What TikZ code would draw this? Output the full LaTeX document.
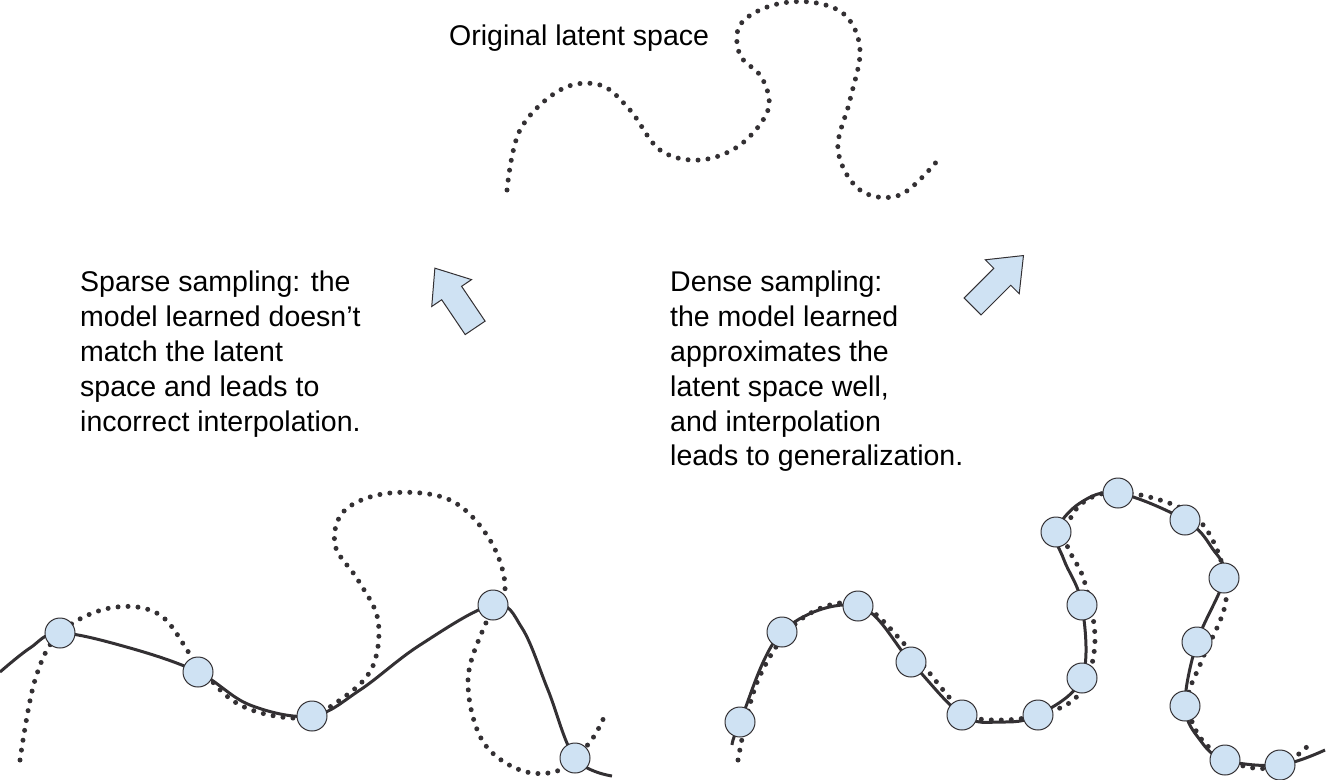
\documentclass[tikz,border=0pt]{standalone}
\usepackage{fontspec}
\setmainfont{Liberation Sans}
\definecolor{pale}{HTML}{CFE2F3}
\definecolor{ink}{HTML}{333033}
\tikzset{
  latent/.style = {ink, line width=5pt, line cap=round, dash pattern=on 0pt off 10pt},
  model/.style  = {ink, line width=3pt},
  sample/.style = {circle, draw=ink, fill=pale, line width=1pt, minimum size=30pt, inner sep=0pt},
  caption/.style = {anchor=north west, align=left, inner sep=0pt, font=\fontsize{28.5}{34.8}\selectfont},
  blockarrow/.style = {draw=ink, fill=pale, line width=1pt, line join=miter}
}
\newcommand{\blockshape}{(-36,-12) -- (6,-12) -- (6,-24) -- (36,0) -- (6,24) -- (6,12) -- (-36,12) -- cycle}
\begin{document}
\begin{tikzpicture}[x=1pt,y=-1pt]
\useasboundingbox (0,0) rectangle (1329,779);

% the original latent space
\node[caption, anchor=west] (title) at (449,38) {Original latent space};
\draw[latent] plot[smooth, tension=0.6] coordinates {(507,190) (520,130) (560,90) (600,85) (630,110)
  (660,150) (700,160) (740,145) (768,110) (762,78) (740,55) (740,25) (770,6) (810,2) (845,15)
  (860,50) (850,100) (838,150) (860,190) (900,195) (938,160)};

% captions and arrows
\node[caption] (sparse) at (80,271) {Sparse sampling: the\\model learned doesn’t\\match the latent\\space and leads to\\incorrect interpolation.};
\node[caption] (dense) at (670,271) {Dense sampling:\\the model learned\\approximates the\\latent space well,\\and interpolation\\leads to generalization.};
\draw[blockarrow, shift={(455,298)}, rotate=124] \blockshape;
\draw[blockarrow, shift={(998,281)}, rotate=45] \blockshape;

% sparse sampling
\draw[latent] plot[smooth, tension=0.6] coordinates {(20,760) (35,680) (60,633) (110,608) (160,615)
  (198,665) (240,705) (300,718) (340,700) (372,668) (378,620) (358,580) (335,545) (345,510)
  (390,493) (450,500) (490,540) (505,590) (485,625) (468,680) (482,740) (520,770) (560,770)
  (590,742) (605,715)};
\draw[model] plot[smooth, tension=0.6] coordinates {(0,672) (30,648) (60,633) (130,648) (198,672)
  (250,705) (312,716) (360,690) (420,645) (493,605) (522,628) (548,690) (575,758) (612,776)};
\foreach \p [count=\i] in {(60,633),(198,672),(312,716),(493,605),(575,758)}
  \node[sample] (s\i) at \p {};

% dense sampling
\draw[latent] plot[smooth, tension=0.6] coordinates {(738,760) (758,680) (800,620) (858,604)
  (910,650) (962,710) (1000,720) (1050,712) (1082,690) (1095,640) (1084,580) (1066,540)
  (1080,505) (1120,492) (1185,510) (1215,545) (1226,600) (1202,660) (1188,700) (1202,740)
  (1240,765) (1280,766) (1312,742)};
\draw[model] plot[smooth, tension=0.6] coordinates {(732,745) (740,722) (782,632) (858,606)
  (911,662) (962,715) (1000,722) (1038,715) (1082,678) (1082,605) (1064,560) (1056,532)
  (1080,503) (1118,493) (1185,520) (1212,548) (1224,578) (1197,642) (1185,706) (1200,740)
  (1225,760) (1280,765) (1325,750)};
\foreach \p [count=\i] in {(740,722),(782,632),(858,606),(911,662),(962,715),(1038,715),
  (1082,678),(1082,605),(1056,532),(1118,493),(1185,520),(1224,578),(1197,642),(1185,706),
  (1225,760),(1280,765)}
  \node[sample] (d\i) at \p {};
\end{tikzpicture}
\end{document}
